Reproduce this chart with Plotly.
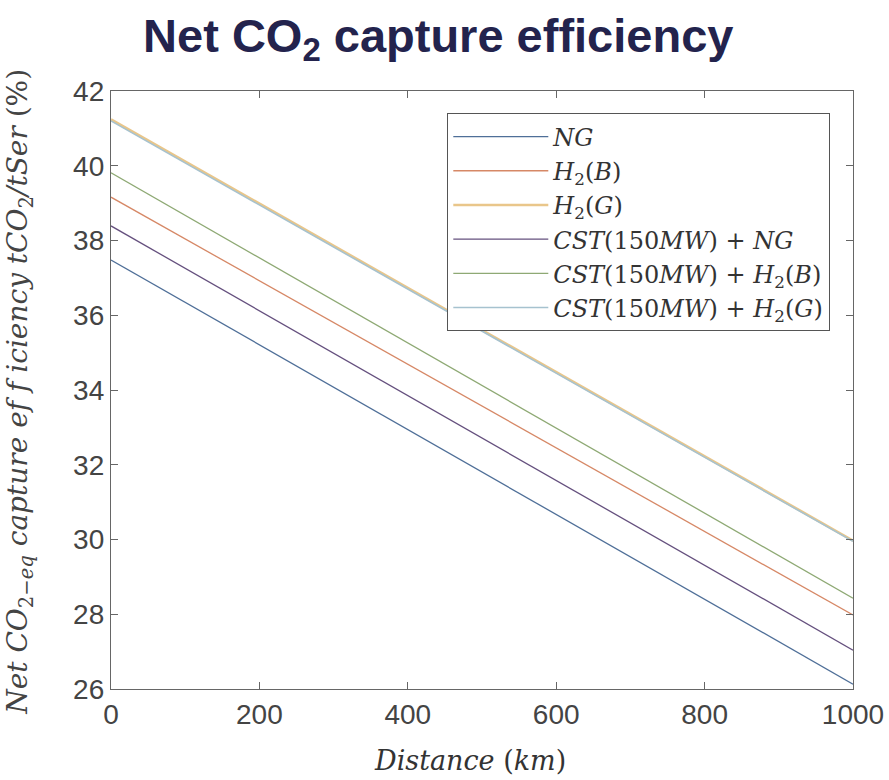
import plotly.graph_objects as go

distance_km = [0, 1000]
ng = [37.48, 26.13]
h2_b = [39.16, 27.98]
h2_g = [41.24, 29.97]
cst_ng = [38.39, 27.04]
cst_h2_b = [39.81, 28.43]
cst_h2_g = [41.20, 29.95]

series_names = [
    "<i>NG</i>",
    "<i>H</i><sub>2</sub>(<i>B</i>)",
    "<i>H</i><sub>2</sub>(<i>G</i>)",
    "<i>CST</i>(150<i>MW</i>) + <i>NG</i>",
    "<i>CST</i>(150<i>MW</i>) + <i>H</i><sub>2</sub>(<i>B</i>)",
    "<i>CST</i>(150<i>MW</i>) + <i>H</i><sub>2</sub>(<i>G</i>)",
]
series_values = [ng, h2_b, h2_g, cst_ng, cst_h2_b, cst_h2_g]
series_colors = ["#4f6f98", "#d68866", "#e9c68a", "#65507e", "#8ea974", "#a6c2cf"]
series_widths = [1.3, 1.3, 2.6, 1.3, 1.3, 1.6]

x_ticks = [0, 200, 400, 600, 800, 1000]
y_ticks = [26, 28, 30, 32, 34, 36, 38, 40, 42]

fig = go.Figure()
for name, vals, col, w in zip(series_names, series_values, series_colors, series_widths):
    fig.add_trace(go.Scatter(x=distance_km, y=vals, mode="lines", name=name,
                             line=dict(color=col, width=w)))

serif = "DejaVu Serif, Liberation Serif, serif"
sans = "Liberation Sans, Arial, sans-serif"

axis_common = dict(showgrid=False, zeroline=False, showline=True, linecolor="#666666",
                   linewidth=1.3, mirror="ticks", ticks="inside", ticklen=7, automargin=False,
                   tickcolor="#666666", tickfont=dict(family=sans, size=28, color="#444444"))

fig.update_layout(
    width=889, height=780,
    margin=dict(l=111, r=36, t=91, b=91),
    paper_bgcolor="white", plot_bgcolor="white",
    title=dict(text="<b>Net CO<sub>2</sub> capture efficiency</b>", x=0.493, xanchor="center",
               y=0.955, yanchor="middle", automargin=False,
               font=dict(family=sans, size=47, color="#23234d")),
    xaxis=dict(range=[0, 1000], tickvals=x_ticks, **axis_common),
    yaxis=dict(range=[26, 42], tickvals=y_ticks, **axis_common),
    legend=dict(x=0.969, xanchor="right", y=0.963, yanchor="top",
                bgcolor="white", bordercolor="#555555", borderwidth=1.3,
                itemwidth=95, tracegroupgap=0,
                font=dict(family=serif, size=24, color="#333333")),
    showlegend=True,
    annotations=[
        dict(text="<i>Distance</i> (<i>km</i>)", xref="paper", yref="paper",
             x=0.484, y=-0.119, xanchor="center", yanchor="middle", showarrow=False,
             font=dict(family=serif, size=27, color="#333333")),
        dict(text="<i>Net CO</i><sub>2−<i>eq</i></sub> <i>capture ef f iciency tCO</i><sub>2</sub><i>/tSer</i> (%)",
             xref="paper", yref="paper", x=-0.1226, y=0.497, xanchor="center", yanchor="middle",
             textangle=-90, showarrow=False,
             font=dict(family=serif, size=28, color="#444444")),
    ],
)

fig.write_html("out.html")
